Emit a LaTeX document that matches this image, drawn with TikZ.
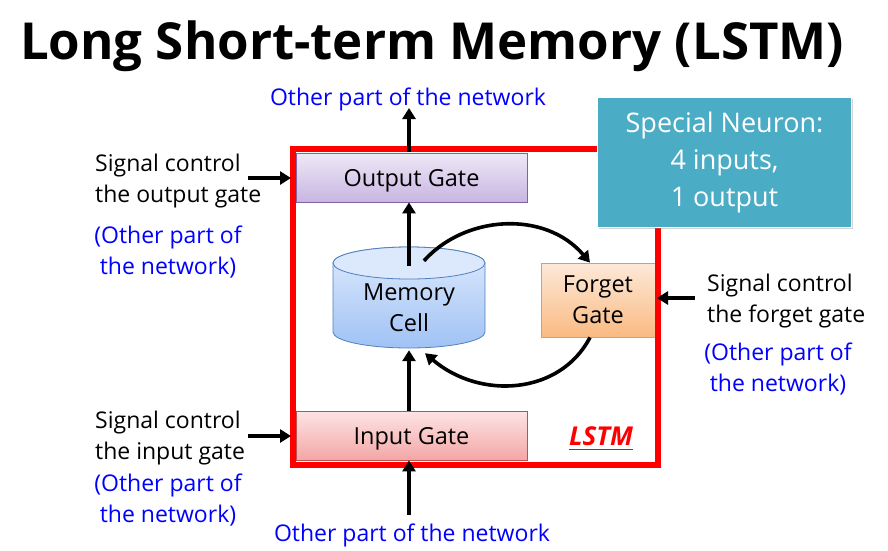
\documentclass[tikz,border=0pt]{standalone}
\usepackage{fontspec}
\setmainfont{Open Sans}
\usetikzlibrary{arrows.meta,calc,shadows}
\definecolor{netblue}{HTML}{0000FF}
\definecolor{lstmred}{HTML}{FF0000}
\definecolor{tealbox}{HTML}{4BACC6}
\definecolor{outtop}{HTML}{EEE8F6}
\definecolor{outbot}{HTML}{C8B6E2}
\definecolor{outline}{HTML}{8064A2}
\definecolor{intop}{HTML}{FDE4E4}
\definecolor{inbot}{HTML}{F4A6A6}
\definecolor{inline}{HTML}{C0504D}
\definecolor{fgtop}{HTML}{FDE9D9}
\definecolor{fgbot}{HTML}{FABA82}
\definecolor{fgline}{HTML}{F79646}
\definecolor{memtop}{HTML}{DEEAFC}
\definecolor{membot}{HTML}{A0C2F5}
\definecolor{memline}{HTML}{4F81BD}
\definecolor{memcap}{HTML}{DCE8FC}
\tikzset{
  gate/.style={draw, line width=0.8pt, minimum width=231pt, minimum height=49pt, inner sep=0pt, text depth=0pt, font=\fontsize{23.5}{28}\selectfont},
  flow/.style={line width=3.6pt, -{Triangle[length=11pt,width=13pt]}},
  lbl/.style={font=\fontsize{23}{31}\selectfont, inner sep=0pt},
  other/.style={font=\fontsize{23}{30.5}\selectfont, text=netblue, align=center, inner sep=0pt}
}
\begin{document}
\begin{tikzpicture}[x=1pt,y=1pt]
\useasboundingbox (0,0) rectangle (888,-550);
% title
\node[font=\fontsize{51}{56}\bfseries\selectfont, inner sep=0pt] (title) at (432,-46) {Long Short-term Memory (LSTM)};
% gates
\node[gate, top color=outtop, bottom color=outbot, draw=outline] (out) at (411.5,-177.5) {Output Gate};
\node[gate, top color=intop, bottom color=inbot, draw=inline] (in) at (411.5,-435.5) {Input Gate};
\node[gate, minimum width=114pt, minimum height=74pt, align=center, text depth=, top color=fgtop, bottom color=fgbot, draw=fgline, font=\fontsize{23.5}{31}\selectfont] (fg) at (598,-300) {Forget\\Gate};
% LSTM frame
\draw[lstmred, line width=6pt] (293,-149) rectangle (658,-465);
% memory cell cylinder
\shade[top color=memtop, bottom color=membot, draw=memline, line width=0.8pt]
  (333,-263) -- (333,-332) arc[start angle=180,end angle=360,x radius=76,y radius=16] -- (485,-263) arc[start angle=0,end angle=180,x radius=76,y radius=16] -- cycle;
\draw[draw=memline, fill=memcap, line width=0.8pt] (409,-263) ellipse[x radius=76, y radius=16];
\node[font=\fontsize{23.5}{31}\selectfont, align=center, minimum width=152pt, minimum height=84pt, inner sep=0pt] (mem) at (409,-308) {Memory\\Cell};
% special neuron box
\node[fill=tealbox, draw=white, line width=1pt, drop shadow={opacity=0.35, shadow xshift=1.5pt, shadow yshift=-1.5pt}, minimum width=254pt, minimum height=130pt, text=white, align=center, font=\fontsize{27}{37}\selectfont] (sn) at (724.5,-162) {Special Neuron:\\4 inputs,\\1 output};
% LSTM label
\node[text=lstmred, font=\fontsize{26}{30}\bfseries\itshape\selectfont, inner sep=0pt] (lstm) at (601,-436) {LSTM};
\draw[lstmred, line width=1pt] (lstm.south west |- 0,-449) -- (lstm.south east |- 0,-449);
% top/bottom network texts
\node[other] (topnet) at (408,-99) {Other part of the network};
\node[other] (botnet) at (412,-535) {Other part of the network};
\coordinate (toptip) at (409,-108);
\coordinate (botstart) at (409,-515);
% vertical flows
\draw[flow] (409,-152) -- (toptip);
\draw[flow] (mem.north -| 409,0) -- (out.south -| 409,0);
\draw[flow] (in.north -| 409,0) -- (mem.south -| 409,0);
\draw[flow] (botstart) -- (in.south -| 409,0);
% curves
\draw[flow] ($(mem.north)+(15,5)$) .. controls (465,-215) and (545,-210) .. ($(fg.north)+(-8,0)$);
\draw[flow] ($(fg.south)+(-8,0)$) .. controls (560,-395) and (480,-400) .. ($(mem.south)+(16,-3)$);
% left labels
\node[lbl, align=left, anchor=west] (sigout) at (95,-181) {Signal control\\the output gate};
\node[other] (othout) at (168,-252) {(Other part of\\the network)};
\node[lbl, align=left, anchor=west] (sigin) at (95,-438) {Signal control\\the input gate};
\node[other] (othin) at (168,-500) {(Other part of\\the network)};
\node[lbl, align=left, anchor=west] (sigfg) at (707,-301) {Signal control\\the forget gate};
\node[other] (othfg) at (778,-369) {(Other part of\\the network)};
% control arrows
\coordinate (aout) at (248,-178);
\coordinate (ain) at (248,-436);
\coordinate (afg) at (695,-298);
\draw[flow, line width=3.2pt] (aout) -- (291,-178);
\draw[flow, line width=3.2pt] (ain) -- (291,-436);
\draw[flow, line width=3.2pt] (afg) -- (657,-298);
\end{tikzpicture}
\end{document}
